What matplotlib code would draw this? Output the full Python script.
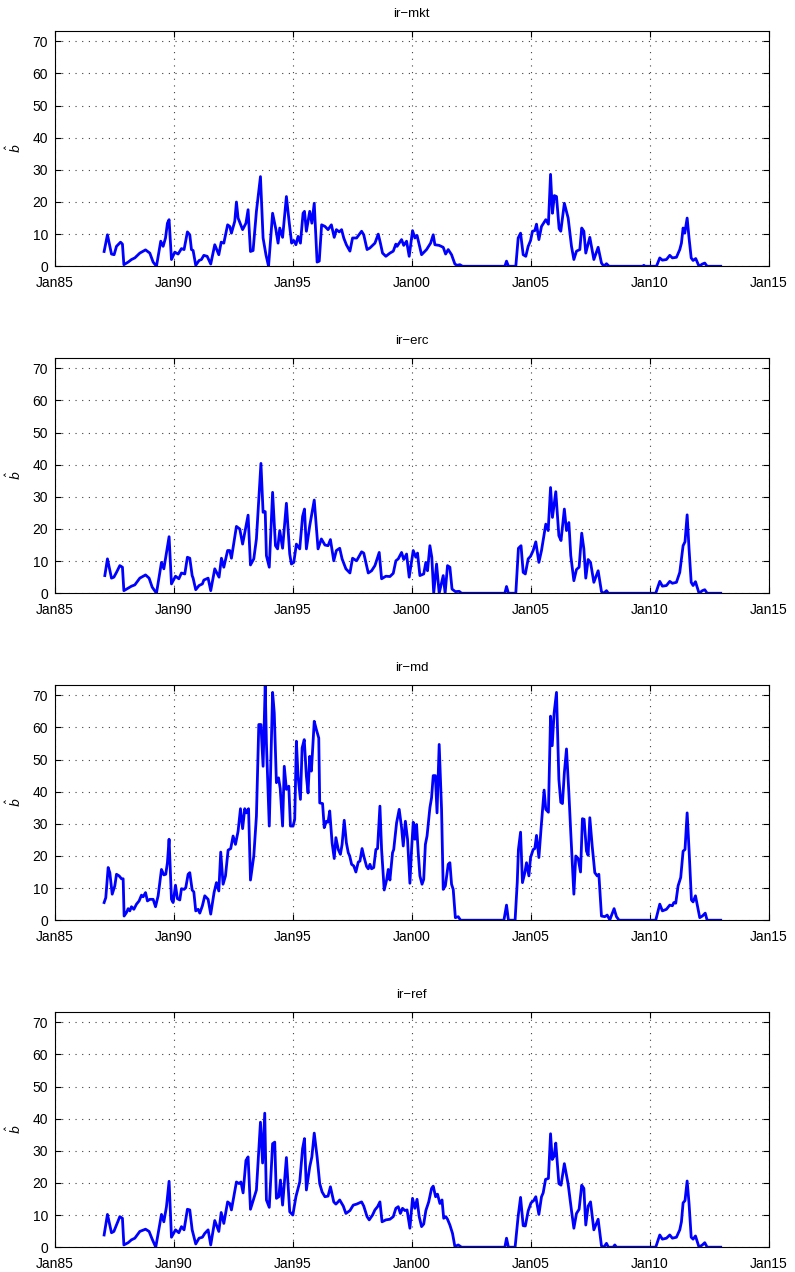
import matplotlib
matplotlib.use('Agg')
import matplotlib.pyplot as plt

# Panel titles
titles = ['ir\u2212mkt', 'ir\u2212erc', 'ir\u2212md', 'ir\u2212ref']

# x tick positions (years) and labels
tick_years = [1985, 1990, 1995, 2000, 2005, 2010, 2015]
tick_labels = ['Jan85', 'Jan90', 'Jan95', 'Jan00', 'Jan05', 'Jan10', 'Jan15']

# ir-mkt: (decimal year, b-hat)
mkt_x = [1987.07, 1987.21, 1987.38, 1987.49, 1987.59, 1987.76, 1987.84, 1987.90, 1988.08, 1988.22,
         1988.36, 1988.57, 1988.81, 1988.99, 1989.13, 1989.27, 1989.45, 1989.55, 1989.65, 1989.73,
         1989.80, 1989.90, 1990.04, 1990.18, 1990.32, 1990.43, 1990.57, 1990.67, 1990.74, 1990.81,
         1990.92, 1991.06, 1991.16, 1991.26, 1991.40, 1991.55, 1991.72, 1991.89, 1991.99, 1992.10,
         1992.26, 1992.35, 1992.42, 1992.56, 1992.63, 1992.70, 1992.89, 1993.03, 1993.12, 1993.22,
         1993.33, 1993.47, 1993.64, 1993.75, 1993.87, 1993.98, 1994.15, 1994.29, 1994.38, 1994.45,
         1994.57, 1994.73, 1994.85, 1994.95, 1995.04, 1995.13, 1995.22, 1995.32, 1995.43, 1995.49,
         1995.57, 1995.71, 1995.80, 1995.90, 1996.02, 1996.11, 1996.21, 1996.35, 1996.48, 1996.62,
         1996.74, 1996.83, 1996.95, 1997.05, 1997.14, 1997.25, 1997.40, 1997.51, 1997.68, 1997.89,
         1997.98, 1998.12, 1998.24, 1998.45, 1998.59, 1998.68, 1998.77, 1998.91, 1999.08, 1999.22,
         1999.33, 1999.38, 1999.47, 1999.57, 1999.66, 1999.78, 1999.89, 2000.03, 2000.13, 2000.22,
         2000.31, 2000.41, 2000.62, 2000.79, 2000.90, 2000.97, 2001.15, 2001.32, 2001.42, 2001.53,
         2001.67, 2001.81, 2001.90, 2002.02, 2002.13, 2003.91, 2003.98, 2004.06, 2004.37, 2004.47,
         2004.57, 2004.68, 2004.79, 2004.89, 2004.99, 2005.07, 2005.17, 2005.24, 2005.34, 2005.45,
         2005.63, 2005.74, 2005.83, 2005.91, 2005.99, 2006.08, 2006.19, 2006.26, 2006.41, 2006.57,
         2006.71, 2006.81, 2006.92, 2007.06, 2007.14, 2007.23, 2007.31, 2007.48, 2007.65, 2007.83,
         2007.97, 2008.07, 2008.18, 2008.29, 2009.70, 2009.75, 2009.80, 2010.28, 2010.42, 2010.53,
         2010.70, 2010.84, 2010.95, 2011.12, 2011.26, 2011.33, 2011.40, 2011.47, 2011.57, 2011.65,
         2011.74, 2011.82, 2011.93, 2012.07, 2012.21, 2012.31, 2012.41, 2012.98]
mkt_y = [4.6, 9.8, 3.8, 3.6, 6.2, 7.5, 6.9, 0.5, 1.3, 2.1,
         2.6, 4.1, 5.1, 4.1, 1.3, 0.0, 7.8, 6.2, 8.8, 13.4,
         14.5, 2.1, 4.4, 3.8, 5.5, 5.2, 10.7, 9.8, 5.2, 4.9,
         0.3, 1.8, 2.1, 3.4, 3.1, 0.7, 6.7, 3.6, 7.5, 7.2,
         12.9, 12.4, 10.3, 14.0, 20.0, 15.0, 11.4, 13.4, 17.6, 4.6,
         4.9, 17.1, 27.9, 8.8, 3.6, 0.0, 16.5, 11.4, 7.2, 11.9,
         9.0, 21.7, 13.5, 7.2, 8.0, 6.7, 9.3, 7.2, 16.5, 17.1,
         10.9, 17.1, 13.4, 19.6, 1.3, 1.6, 12.9, 12.4, 11.4, 12.9,
         9.0, 11.4, 10.7, 11.4, 8.8, 6.7, 4.7, 8.8, 8.8, 10.9,
         9.8, 5.2, 5.7, 7.2, 10.0, 7.2, 4.1, 3.1, 4.1, 4.7,
         6.9, 6.2, 7.2, 8.3, 6.5, 7.8, 3.1, 11.1, 8.8, 9.6,
         6.7, 3.6, 5.2, 7.2, 9.8, 6.7, 6.5, 5.9, 3.8, 5.2,
         3.6, 0.7, 0.3, 0.5, 0.0, 0.0, 1.6, 0.0, 0.0, 8.8,
         10.3, 3.6, 3.1, 6.2, 8.0, 10.9, 11.1, 13.1, 8.3, 12.4,
         14.5, 13.1, 28.6, 16.5, 22.0, 21.7, 11.7, 10.9, 19.6, 15.0,
         6.2, 2.1, 4.7, 5.2, 11.9, 10.9, 4.1, 9.0, 2.1, 5.9,
         1.0, 0.0, 0.8, 0.0, 0.0, 0.3, 0.0, 0.0, 2.6, 1.9,
         2.1, 3.4, 2.6, 2.8, 5.2, 7.2, 11.9, 10.3, 15.0, 8.8,
         2.6, 1.8, 2.4, 0.0, 0.7, 1.0, 0.0, 0.0]

# ir-erc
erc_x = [1987.10, 1987.21, 1987.38, 1987.48, 1987.59, 1987.73, 1987.84, 1987.90, 1988.08, 1988.22,
         1988.36, 1988.57, 1988.81, 1988.96, 1989.09, 1989.27, 1989.48, 1989.58, 1989.69, 1989.80,
         1989.90, 1990.07, 1990.21, 1990.32, 1990.46, 1990.57, 1990.67, 1990.77, 1990.81, 1990.92,
         1991.06, 1991.20, 1991.26, 1991.44, 1991.55, 1991.72, 1991.90, 1992.00, 1992.10, 1992.26,
         1992.35, 1992.42, 1992.63, 1992.77, 1992.89, 1993.12, 1993.22, 1993.36, 1993.47, 1993.66,
         1993.75, 1993.84, 1993.89, 1994.01, 1994.15, 1994.27, 1994.36, 1994.45, 1994.57, 1994.73,
         1994.87, 1994.94, 1995.04, 1995.15, 1995.29, 1995.41, 1995.49, 1995.57, 1995.71, 1995.90,
         1996.06, 1996.20, 1996.35, 1996.48, 1996.58, 1996.72, 1996.83, 1996.97, 1997.07, 1997.23,
         1997.40, 1997.51, 1997.68, 1997.89, 1997.98, 1998.17, 1998.31, 1998.45, 1998.63, 1998.73,
         1998.91, 1999.08, 1999.22, 1999.33, 1999.43, 1999.57, 1999.66, 1999.78, 1999.89, 2000.06,
         2000.17, 2000.24, 2000.34, 2000.50, 2000.59, 2000.66, 2000.76, 2000.84, 2000.92, 2001.04,
         2001.15, 2001.32, 2001.40, 2001.50, 2001.60, 2001.69, 2001.83, 2001.99, 2002.09, 2003.91,
         2003.98, 2004.06, 2004.37, 2004.48, 2004.59, 2004.68, 2004.77, 2004.89, 2004.99, 2005.10,
         2005.21, 2005.34, 2005.45, 2005.63, 2005.73, 2005.83, 2005.91, 2006.05, 2006.18, 2006.27,
         2006.41, 2006.50, 2006.60, 2006.68, 2006.81, 2006.92, 2007.03, 2007.14, 2007.23, 2007.31,
         2007.41, 2007.51, 2007.65, 2007.83, 2007.97, 2008.07, 2008.18, 2008.26, 2010.25, 2010.42,
         2010.53, 2010.70, 2010.84, 2010.95, 2011.12, 2011.26, 2011.40, 2011.48, 2011.57, 2011.65,
         2011.74, 2011.82, 2011.92, 2012.07, 2012.21, 2012.31, 2012.41, 2012.98]
erc_y = [5.5, 10.7, 4.7, 5.0, 6.5, 8.6, 8.1, 0.8, 1.6, 2.2,
         2.6, 4.7, 5.7, 4.7, 1.9, 0.0, 9.6, 7.6, 12.7, 17.6,
         2.9, 5.3, 4.5, 6.3, 6.0, 11.2, 10.9, 5.5, 4.7, 1.1,
         2.4, 2.9, 4.1, 4.7, 0.8, 7.6, 5.0, 10.9, 8.1, 13.3,
         13.3, 10.9, 20.8, 20.0, 15.3, 24.3, 8.8, 10.7, 16.9, 40.4,
         25.2, 25.4, 11.7, 8.1, 31.4, 14.8, 13.8, 19.5, 14.0, 28.0,
         12.2, 9.1, 9.6, 15.3, 13.8, 23.9, 26.2, 13.8, 21.0, 29.0,
         13.8, 16.9, 15.0, 14.8, 16.7, 10.1, 13.3, 14.0, 10.7, 7.6,
         6.3, 10.9, 10.1, 12.9, 12.5, 6.3, 7.0, 8.6, 12.7, 4.5,
         5.3, 5.2, 6.2, 10.1, 10.7, 12.7, 10.5, 12.2, 5.0, 13.3,
         11.2, 12.5, 5.5, 6.0, 9.6, 7.0, 14.8, 11.2, 0.0, 9.1,
         0.0, 5.5, 0.0, 8.6, 8.1, 1.3, 0.5, 0.6, 0.0, 0.0,
         2.1, 0.0, 0.0, 14.0, 14.8, 6.5, 6.0, 10.7, 11.5, 13.3,
         16.0, 9.6, 13.3, 21.5, 19.5, 32.9, 23.6, 31.6, 17.9, 16.4,
         26.2, 19.5, 22.0, 11.7, 3.9, 7.4, 8.1, 18.7, 13.8, 4.7,
         10.5, 9.6, 3.4, 7.0, 0.5, 0.0, 0.8, 0.0, 0.0, 3.7,
         2.2, 2.4, 3.7, 3.1, 3.4, 6.5, 14.8, 16.0, 24.4, 13.8,
         3.4, 2.4, 3.6, 0.0, 0.8, 1.1, 0.0, 0.0]

# ir-md
md_x = [1987.07, 1987.14, 1987.24, 1987.31, 1987.41, 1987.52, 1987.59, 1987.70, 1987.80, 1987.87,
        1987.91, 1988.01, 1988.08, 1988.15, 1988.22, 1988.32, 1988.43, 1988.54, 1988.64, 1988.71,
        1988.81, 1988.89, 1988.99, 1989.13, 1989.23, 1989.34, 1989.48, 1989.58, 1989.66, 1989.73,
        1989.80, 1989.90, 1989.97, 1990.07, 1990.15, 1990.25, 1990.32, 1990.43, 1990.50, 1990.60,
        1990.67, 1990.77, 1990.84, 1990.92, 1991.02, 1991.09, 1991.20, 1991.30, 1991.44, 1991.55,
        1991.69, 1991.79, 1991.89, 1991.97, 1992.07, 1992.17, 1992.28, 1992.39, 1992.49, 1992.59,
        1992.70, 1992.80, 1992.89, 1992.98, 1993.05, 1993.14, 1993.22, 1993.36, 1993.47, 1993.57,
        1993.66, 1993.75, 1993.84, 1993.89, 1994.01, 1994.15, 1994.22, 1994.31, 1994.40, 1994.47,
        1994.57, 1994.64, 1994.73, 1994.83, 1994.90, 1995.01, 1995.08, 1995.15, 1995.22, 1995.32,
        1995.39, 1995.48, 1995.57, 1995.64, 1995.71, 1995.78, 1995.90, 1995.99, 1996.09, 1996.13,
        1996.25, 1996.32, 1996.41, 1996.48, 1996.55, 1996.65, 1996.74, 1996.81, 1996.91, 1997.00,
        1997.07, 1997.16, 1997.25, 1997.33, 1997.39, 1997.47, 1997.56, 1997.65, 1997.75, 1997.82,
        1997.91, 1997.98, 1998.10, 1998.17, 1998.24, 1998.31, 1998.40, 1998.49, 1998.56, 1998.66,
        1998.73, 1998.84, 1998.94, 1999.01, 1999.08, 1999.19, 1999.24, 1999.36, 1999.47, 1999.57,
        1999.64, 1999.73, 1999.82, 1999.92, 1999.99, 2000.06, 2000.13, 2000.20, 2000.27, 2000.34,
        2000.43, 2000.50, 2000.57, 2000.64, 2000.76, 2000.83, 2000.90, 2000.99, 2001.06, 2001.15,
        2001.25, 2001.32, 2001.41, 2001.53, 2001.60, 2001.67, 2001.74, 2001.83, 2001.95, 2002.05,
        2003.87, 2003.98, 2004.06, 2004.34, 2004.43, 2004.48, 2004.57, 2004.65, 2004.75, 2004.82,
        2004.92, 2004.99, 2005.10, 2005.17, 2005.24, 2005.34, 2005.45, 2005.56, 2005.63, 2005.74,
        2005.83, 2005.90, 2005.98, 2006.08, 2006.18, 2006.26, 2006.33, 2006.41, 2006.50, 2006.60,
        2006.68, 2006.81, 2006.89, 2006.99, 2007.09, 2007.17, 2007.24, 2007.34, 2007.41, 2007.48,
        2007.58, 2007.69, 2007.79, 2007.86, 2007.97, 2008.11, 2008.21, 2008.32, 2008.43, 2008.50,
        2008.60, 2008.71, 2010.25, 2010.42, 2010.53, 2010.70, 2010.84, 2010.95, 2011.01, 2011.09,
        2011.19, 2011.30, 2011.40, 2011.48, 2011.57, 2011.65, 2011.75, 2011.82, 2011.92, 2012.00,
        2012.10, 2012.21, 2012.33, 2012.41, 2012.98]
md_y = [5.5, 7.0, 16.4, 14.8, 8.1, 10.7, 14.3, 13.8, 12.9, 12.9,
        1.3, 2.4, 3.6, 2.9, 4.2, 3.4, 5.0, 6.0, 7.8, 7.3,
        8.6, 6.0, 6.5, 6.5, 4.2, 7.6, 15.8, 14.1, 14.3, 17.9,
        25.2, 6.5, 5.5, 10.9, 6.7, 6.3, 9.8, 9.6, 10.1, 14.3,
        14.8, 9.4, 8.8, 2.9, 3.4, 2.2, 4.5, 7.6, 6.5, 1.9,
        8.6, 11.7, 9.1, 21.2, 11.2, 13.8, 21.8, 22.3, 26.2, 23.6,
        27.7, 34.7, 28.5, 34.7, 33.4, 34.7, 12.5, 20.0, 32.4, 60.9,
        60.9, 47.9, 73.2, 55.2, 29.3, 70.9, 64.5, 42.8, 44.3, 41.0,
        29.3, 47.9, 40.7, 41.7, 29.3, 29.3, 31.4, 55.7, 44.8, 37.6,
        53.6, 56.2, 44.8, 39.6, 51.0, 46.4, 61.9, 59.3, 56.7, 36.5,
        36.3, 28.8, 30.8, 30.5, 34.0, 24.1, 19.2, 25.7, 22.0, 20.5,
        23.6, 31.1, 24.1, 21.0, 20.0, 17.4, 16.9, 15.0, 18.1, 18.4,
        22.3, 20.0, 16.7, 16.0, 17.4, 16.0, 16.4, 22.0, 22.3, 35.5,
        22.0, 9.4, 12.5, 15.8, 12.5, 21.0, 22.0, 30.3, 34.5, 28.8,
        23.1, 30.8, 25.2, 11.5, 22.0, 30.5, 25.2, 29.8, 21.0, 13.8,
        11.2, 12.7, 23.6, 26.2, 35.0, 38.1, 45.0, 45.0, 33.4, 54.7,
        34.5, 9.6, 10.7, 17.4, 17.9, 11.2, 9.6, 0.8, 1.1, 0.0,
        0.0, 4.7, 0.0, 0.0, 11.7, 22.0, 27.4, 11.7, 14.8, 17.9,
        13.8, 19.5, 22.0, 22.3, 26.4, 19.5, 30.3, 40.5, 34.5, 33.6,
        63.5, 54.3, 64.5, 70.9, 43.8, 36.7, 36.3, 45.9, 53.3, 39.6,
        27.2, 8.1, 20.0, 19.2, 15.0, 31.6, 31.4, 21.5, 20.2, 31.9,
        23.1, 14.8, 13.8, 14.3, 1.3, 1.1, 1.6, 0.1, 2.2, 3.6,
        1.1, 0.0, 0.0, 5.0, 2.9, 3.4, 4.7, 4.5, 5.5, 5.3,
        10.7, 13.3, 21.5, 22.0, 33.4, 22.0, 6.3, 5.7, 7.6, 4.5,
        0.8, 1.3, 2.2, 0.0, 0.0]

# ir-ref
ref_x = [1987.07, 1987.21, 1987.38, 1987.48, 1987.59, 1987.73, 1987.84, 1987.90, 1988.08, 1988.22,
         1988.36, 1988.57, 1988.81, 1988.96, 1989.09, 1989.24, 1989.48, 1989.58, 1989.69, 1989.80,
         1989.90, 1990.07, 1990.21, 1990.32, 1990.43, 1990.57, 1990.67, 1990.77, 1990.92, 1991.06,
         1991.20, 1991.30, 1991.44, 1991.55, 1991.72, 1991.89, 1991.99, 1992.10, 1992.26, 1992.35,
         1992.42, 1992.63, 1992.74, 1992.82, 1992.91, 1993.03, 1993.12, 1993.22, 1993.36, 1993.47,
         1993.64, 1993.73, 1993.82, 1993.89, 1994.01, 1994.15, 1994.24, 1994.31, 1994.41, 1994.48,
         1994.57, 1994.73, 1994.87, 1995.00, 1995.13, 1995.29, 1995.41, 1995.49, 1995.57, 1995.71,
         1995.80, 1995.90, 1996.02, 1996.13, 1996.23, 1996.35, 1996.48, 1996.58, 1996.65, 1996.72,
         1996.81, 1996.90, 1996.97, 1997.12, 1997.23, 1997.40, 1997.54, 1997.68, 1997.89, 1997.98,
         1998.12, 1998.21, 1998.35, 1998.45, 1998.56, 1998.66, 1998.75, 1998.91, 1999.08, 1999.22,
         1999.33, 1999.43, 1999.52, 1999.61, 1999.71, 1999.80, 1999.92, 2000.03, 2000.13, 2000.22,
         2000.31, 2000.41, 2000.50, 2000.59, 2000.71, 2000.83, 2000.90, 2001.00, 2001.08, 2001.18,
         2001.27, 2001.34, 2001.43, 2001.50, 2001.60, 2001.71, 2001.81, 2001.95, 2002.09, 2003.91,
         2003.98, 2004.06, 2004.34, 2004.47, 2004.57, 2004.68, 2004.77, 2004.89, 2005.01, 2005.12,
         2005.21, 2005.34, 2005.45, 2005.52, 2005.62, 2005.74, 2005.83, 2005.90, 2005.98, 2006.05,
         2006.18, 2006.27, 2006.41, 2006.57, 2006.71, 2006.81, 2006.92, 2007.03, 2007.14, 2007.23,
         2007.31, 2007.41, 2007.51, 2007.65, 2007.83, 2007.97, 2008.07, 2008.18, 2008.26, 2008.46,
         2008.53, 2008.60, 2010.25, 2010.42, 2010.53, 2010.70, 2010.84, 2010.95, 2011.12, 2011.26,
         2011.33, 2011.40, 2011.48, 2011.57, 2011.65, 2011.74, 2011.82, 2011.92, 2012.07, 2012.21,
         2012.31, 2012.41, 2012.98]
ref_y = [3.8, 10.2, 4.5, 4.9, 6.9, 9.5, 9.0, 0.7, 1.4, 2.3,
         2.8, 4.9, 5.6, 4.9, 2.5, 0.0, 10.2, 7.9, 12.6, 20.5,
         3.1, 5.4, 4.5, 6.4, 5.4, 11.8, 11.6, 5.4, 1.0, 2.8,
         3.1, 4.3, 5.4, 0.7, 8.3, 4.9, 10.8, 7.4, 14.1, 13.6,
         11.6, 20.3, 19.8, 20.3, 16.9, 27.0, 28.1, 11.8, 15.2, 17.8,
         38.9, 26.2, 41.7, 14.7, 12.4, 32.2, 32.7, 15.2, 15.7, 20.9,
         13.1, 27.9, 11.0, 10.0, 15.7, 20.3, 30.7, 33.8, 17.8, 25.0,
         28.1, 35.5, 28.1, 19.8, 17.2, 15.7, 15.9, 18.8, 16.5, 14.1,
         13.4, 14.1, 14.7, 12.8, 10.5, 11.4, 13.1, 13.4, 14.1, 12.8,
         9.5, 8.5, 10.0, 11.6, 12.6, 14.1, 7.9, 8.5, 8.7, 9.5,
         12.1, 12.6, 10.5, 12.1, 11.4, 11.6, 5.9, 15.2, 12.1, 14.9,
         9.5, 6.4, 7.2, 11.4, 14.1, 18.3, 19.0, 15.7, 16.5, 13.6,
         14.7, 9.0, 9.5, 8.7, 6.9, 4.3, 0.2, 0.7, 0.0, 0.0,
         2.8, 0.0, 0.0, 9.7, 15.5, 6.7, 6.6, 11.3, 13.8, 14.5,
         15.7, 10.2, 15.7, 16.9, 21.1, 21.4, 35.3, 27.3, 28.3, 32.4,
         19.8, 19.3, 26.0, 19.6, 11.4, 5.9, 10.5, 11.8, 19.3, 18.3,
         6.9, 12.8, 14.1, 5.4, 8.7, 0.4, 0.0, 1.2, 0.0, 0.0,
         0.7, 0.0, 0.0, 3.8, 2.5, 2.8, 3.8, 2.8, 3.1, 5.4,
         7.9, 13.8, 14.5, 20.6, 13.6, 3.1, 2.5, 3.5, 0.0, 0.7,
         1.4, 0.0, 0.0]

series_x = [mkt_x, erc_x, md_x, ref_x]
series_y = [mkt_y, erc_y, md_y, ref_y]

plt.rcParams['font.family'] = ['Liberation Sans', 'DejaVu Sans']

fig, axes = plt.subplots(4, 1, figsize=(7.95, 12.72), dpi=100)
fig.subplots_adjust(left=0.069, right=0.967, top=0.9756, bottom=0.0195, hspace=0.39)

y_top = max(md_y)

for ax, title, xs, ys in zip(axes, titles, series_x, series_y):
    ax.plot(xs, ys, color=(0, 0, 1), linewidth=2)

    # matlab-ish axes: dotted grid, ticks inside on all sides
    ax.set_xlim(1985, 2015)
    ax.set_ylim(0, y_top)
    ax.set_xticks(tick_years)
    ax.set_xticklabels(tick_labels)
    ax.set_yticks(range(0, 71, 10))
    ax.grid(True, linestyle=(0, (1, 5)), color='0.25', linewidth=0.8)
    ax.tick_params(direction='in', top=True, right=True, labelsize=10, length=4)
    ax.tick_params(axis='x', pad=7)
    ax.tick_params(axis='y', pad=5)
    for sp in ax.spines.values():
        sp.set_linewidth(0.8)

    ax.set_title(title, fontsize=9.5, pad=10)
    ax.set_ylabel(r'$\hat{b}$', fontsize=9, labelpad=6)

fig.savefig('out.png', dpi=100)
